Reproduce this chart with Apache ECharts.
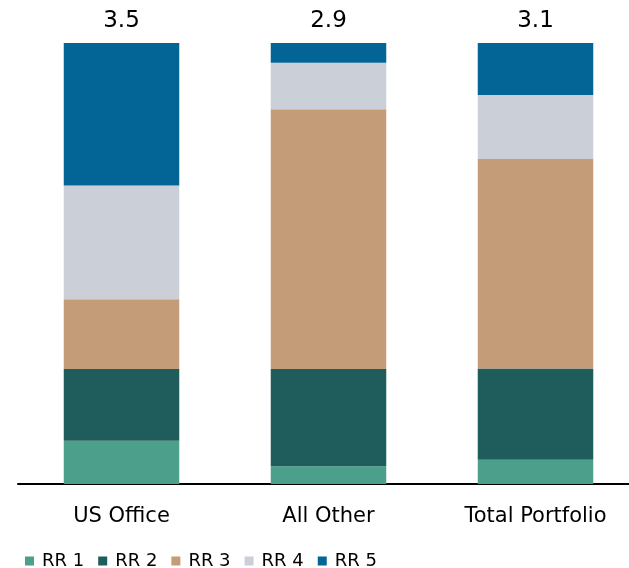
<!DOCTYPE html>
<html>
<head>
<meta charset="utf-8">
<script src="https://cdn.jsdelivr.net/npm/echarts@6/dist/echarts.min.js"></script>
<style>html,body{margin:0;padding:0;background:#fff;overflow:hidden}#c{width:639px;height:568px}</style>
</head>
<body>
<div id="c"></div>
<script>
const categories = ['US Office', 'All Other', 'Total Portfolio'];
const totals = ['3.5', '2.9', '3.1'];
const seriesNames = ['RR 1', 'RR 2', 'RR 3', 'RR 4', 'RR 5'];
const rr1 = [9.8, 4.0, 5.5];
const rr2 = [16.3, 22.1, 20.7];
const rr3 = [15.8, 58.9, 47.5];
const rr4 = [25.8, 10.5, 14.5];
const rr5 = [32.3, 4.5, 11.8];
const colors = ['#4ca08b', '#1e5d5b', '#c49c77', '#cbcfd8', '#026595'];

const FONT = 'DejaVu Sans';
const values = [rr1, rr2, rr3, rr4, rr5];
const series = values.map((v, i) => {
  const s = {
    name: seriesNames[i],
    type: 'bar',
    stack: 'all',
    data: v,
    barWidth: '55.8%',
    itemStyle: { color: colors[i] },
    emphasis: { disabled: true }
  };
  if (i === values.length - 1) {
    s.label = {
      show: true,
      position: 'top',
      distance: 10,
      formatter: p => totals[p.dataIndex],
      color: '#000',
      fontFamily: FONT,
      fontSize: 23
    };
  }
  return s;
});

const chart = echarts.init(document.getElementById('c'), null, { renderer: 'canvas' });
chart.setOption({
  animation: false,
  color: colors,
  grid: { left: 18, right: 0, top: 43, bottom: 84 },
  legend: {
    left: 20,
    top: 547,
    itemWidth: 9,
    itemHeight: 9,
    itemGap: 14,
    icon: 'rect',
    textStyle: { fontFamily: FONT, fontSize: 18, color: '#000', padding: [0, 0, 0, 3] },
    data: seriesNames
  },
  xAxis: {
    type: 'category',
    data: categories,
    axisLine: { lineStyle: { color: '#000', width: 2 } },
    axisTick: { show: false },
    axisLabel: { fontFamily: FONT, fontSize: 21, color: '#000', margin: 22 }
  },
  yAxis: {
    type: 'value',
    min: 0,
    max: 100,
    show: false
  },
  series: series
});
</script>
</body>
</html>
